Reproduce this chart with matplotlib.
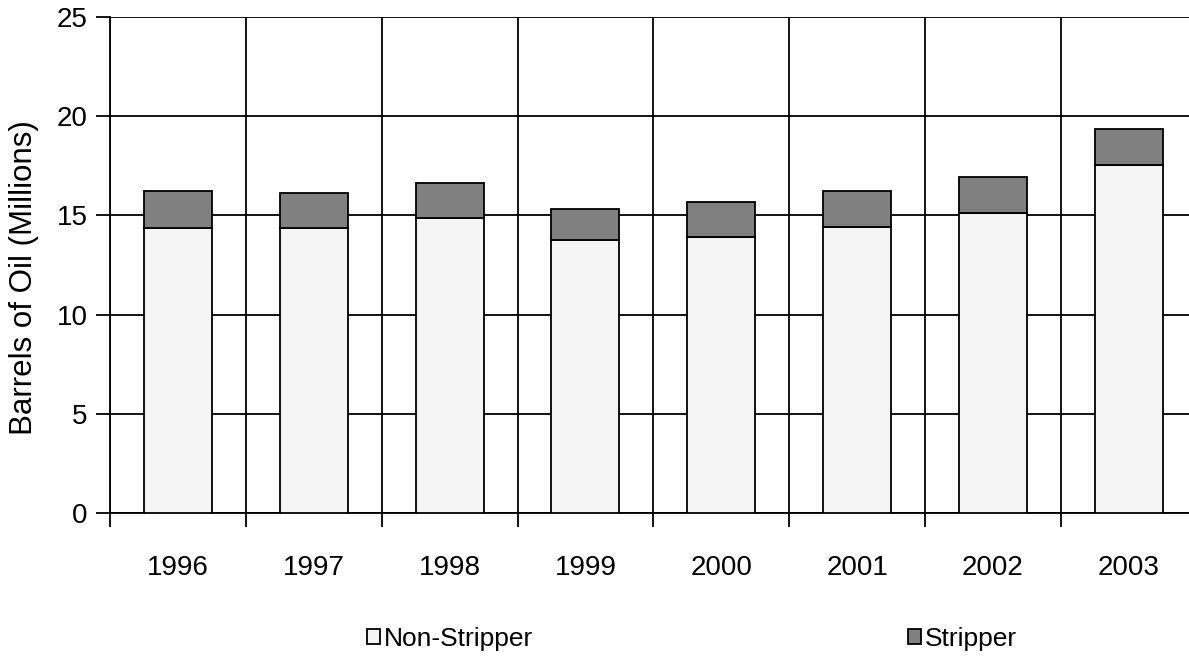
import matplotlib.pyplot as plt
import numpy as np

plt.rcParams["font.family"] = ["Liberation Sans", "DejaVu Sans"]

years = ["1996", "1997", "1998", "1999", "2000", "2001", "2002", "2003"]
non_stripper = [14.38, 14.38, 14.88, 13.78, 13.90, 14.40, 15.10, 17.54]
stripper = [1.85, 1.73, 1.75, 1.53, 1.79, 1.81, 1.82, 1.80]


def main():
    fig = plt.figure(figsize=(11.89, 6.58), dpi=100)
    ax = fig.add_axes([0.0925, 0.2204, 0.914, 0.7536])

    x = np.arange(len(years))
    ax.bar(x, non_stripper, width=0.5, color="#f5f5f5", edgecolor="black",
           linewidth=1.3, label="Non-Stripper", zorder=3)
    ax.bar(x, stripper, width=0.5, bottom=non_stripper, color="#808080",
           edgecolor="black", linewidth=1.3, label="Stripper", zorder=3)

    ax.set_xlim(-0.5, len(years) - 0.5)
    ax.set_ylim(0, 25)
    ax.set_yticks(np.arange(0, 26, 5))
    # category boundaries carry the ticks, year labels sit in between
    ax.set_xticks(np.arange(-0.5, len(years), 1.0))
    ax.set_xticklabels([])
    ax.set_xticks(x, minor=True)
    ax.set_xticklabels(years, minor=True)
    ax.tick_params(axis="x", which="minor", length=0, pad=30, labelsize=20)
    ax.tick_params(axis="x", which="major", length=10, width=1.3, direction="out")
    ax.tick_params(axis="y", length=10, width=1.3, direction="out", labelsize=20, pad=6)

    ax.grid(True, axis="y", color="black", linewidth=1.3, zorder=0)
    ax.grid(True, axis="x", which="major", color="black", linewidth=1.3, zorder=0)
    for side in ["top", "right"]:
        ax.spines[side].set_visible(False)
    ax.spines["left"].set_linewidth(1.3)
    ax.spines["bottom"].set_linewidth(1.3)

    ax.set_ylabel("Barrels of Oil (Millions)", fontsize=22.5)
    ax.yaxis.set_label_coords(-0.065, 0.474)

    fig.legend(loc="center", bbox_to_anchor=(0.582, 0.029), ncol=2, frameon=False,
               fontsize=19, handlelength=0.5, handleheight=0.5, handletextpad=0.15,
               columnspacing=14.2)

    fig.savefig("out.png", dpi=100)


if __name__ == "__main__":
    main()
